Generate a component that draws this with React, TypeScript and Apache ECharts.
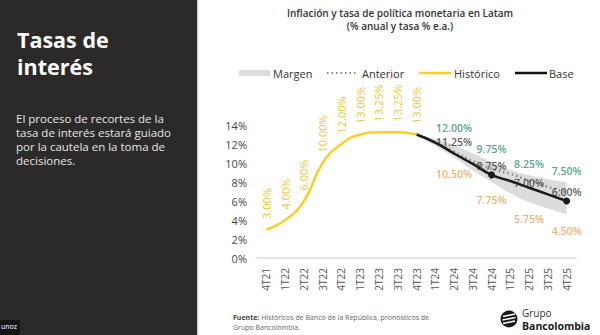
import React, { useEffect, useRef } from "react";
import * as echarts from "echarts";

const categories = ["4T21","1T22","2T22","3T22","4T22","1T23","2T23","3T23","4T23","1T24","2T24","3T24","4T24","1T25","2T25","3T25","4T25"];
const historico = [3.0, 4.0, 6.0, 10.0, 12.0, 13.0, 13.25, 13.25, 13.0, null, null, null, null, null, null, null, null];
const base = [null, null, null, null, null, null, null, null, 13.0, 12.15, 11.0, 9.9, 8.75, 8.1, 7.4, 6.7, 6.0];
const anterior = [null, null, null, null, null, null, null, null, 13.0, 12.2, 11.2, 10.2, 9.4, 8.85, 8.15, 7.5, 6.9];
const margenSup = [null, null, null, null, null, null, null, null, 13.0, 12.5, 11.9, 11.0, 10.1, 9.3, 8.7, 8.3, 8.0];
const margenInf = [null, null, null, null, null, null, null, null, 13.0, 11.8, 10.6, 9.2, 8.0, 6.8, 5.9, 5.2, 4.6];
const labelCats = ["2T24", "4T24", "2T25", "4T25"];
const labelAlto = [12.0, 9.75, 8.25, 7.5];
const labelBase = [11.25, 8.75, 7.0, 6.0];
const labelBajo = [10.5, 7.75, 5.75, 4.5];
const baseMarkers = ["4T24", "4T25"];

const FONT = "'Open Sans', 'Noto Sans', sans-serif";
const YELLOW = "#F8D027";
const YELLOW_LBL = "#EEC43A";
const GREEN = "#2E8B6E";
const ORANGE = "#E5A052";

export default function App() {
  const ref = useRef<HTMLDivElement>(null);
  useEffect(() => {
    if (!ref.current) return;
    const chart = echarts.init(ref.current, null, { renderer: "svg" });
    const diff = margenSup.map((v, i) => (v == null || margenInf[i] == null ? null : +(v - (margenInf[i] as number)).toFixed(3)));
    const fmt = (p: any) => (Array.isArray(p.value) ? p.value[1] : p.value).toFixed(2) + "%";
    const labelSeries = (vals: number[], color: string, position: string, distance: number) => ({
      type: "scatter",
      data: labelCats.map((c, i) => [c, vals[i]]),
      symbolSize: 1,
      itemStyle: { color: "rgba(0,0,0,0)" },
      silent: true,
      z: 10,
      label: {
        show: true,
        position,
        distance,
        formatter: fmt,
        color,
        fontSize: 10.5,
        fontWeight: 600,
        fontFamily: FONT,
        lineHeight: 11,
      },
    });
    const option: any = {
      animation: false,
      backgroundColor: "#ffffff",
      grid: { left: 257, right: 24, top: 125, bottom: 77, containLabel: false },
      xAxis: {
        type: "category",
        data: categories,
        boundaryGap: true,
        axisLine: { lineStyle: { color: "#dddddd", width: 1.5 } },
        axisTick: { show: false },
        axisLabel: { rotate: 90, fontSize: 10, color: "#555", margin: 10, fontFamily: FONT },
      },
      yAxis: {
        type: "value",
        min: 0,
        max: 14,
        interval: 2,
        splitLine: { show: false },
        axisLine: { show: false },
        axisTick: { show: false },
        axisLabel: { formatter: "{value}%", fontSize: 11, color: "#444", margin: 10, fontFamily: FONT },
      },
      series: [
        {
          name: "MargenInf",
          type: "line",
          stack: "band",
          data: margenInf,
          smooth: true,
          symbol: "none",
          lineStyle: { opacity: 0 },
          silent: true,
          z: 1,
        },
        {
          name: "Margen",
          type: "line",
          stack: "band",
          data: diff,
          smooth: true,
          symbol: "none",
          lineStyle: { opacity: 0 },
          areaStyle: { color: "#dcdcdc", opacity: 1 },
          silent: true,
          z: 1,
        },
        {
          name: "Anterior",
          type: "line",
          data: anterior,
          smooth: true,
          symbol: "none",
          lineStyle: { color: "#8a8a8a", width: 2.5, type: [1.5, 3] },
          z: 2,
        },
        {
          name: "Base",
          type: "line",
          data: base.map((v, i) =>
            baseMarkers.includes(categories[i]) ? { value: v, symbol: "circle", symbolSize: 7 } : { value: v, symbol: "none" }
          ),
          smooth: true,
          showSymbol: true,
          itemStyle: { color: "#1a1a1a" },
          lineStyle: { color: "#1a1a1a", width: 2.5 },
          z: 3,
        },
        {
          name: "Histórico",
          type: "line",
          data: historico,
          smooth: true,
          symbol: "circle",
          symbolSize: 1,
          itemStyle: { color: YELLOW },
          lineStyle: { color: YELLOW, width: 2.5 },
          z: 4,
          label: {
            show: true,
            position: "top",
            rotate: 90,
            align: "left",
            verticalAlign: "middle",
            distance: 10,
            formatter: (p: any) => p.value.toFixed(2) + "%",
            color: YELLOW_LBL,
            fontSize: 11,
            fontFamily: FONT,
          },
        },
        labelSeries(labelAlto, GREEN, "top", 10),
        labelSeries(labelBase, "#333333", "top", 3),
        labelSeries(labelBajo, ORANGE, "bottom", 10),
      ],
      graphic: [
        { type: "rect", shape: { x: 0, y: 0, width: 197, height: 335 }, style: { fill: "#2b2a28" }, z: 0 },
        { type: "rect", shape: { x: 197, y: 0, width: 1.5, height: 335 }, style: { fill: "#d0d0d0" }, z: 0 },
        { type: "text", x: 17, y: 39, style: { text: "Tasas de", fill: "#ffffff", font: `bold 21.5px ${FONT}`, verticalAlign: "middle", lineHeight: 22 } },
        { type: "text", x: 17, y: 66, style: { text: "interés", fill: "#ffffff", font: `bold 21.5px ${FONT}`, verticalAlign: "middle", lineHeight: 22 } },
        {
          type: "text",
          x: 16,
          y: 112,
          style: {
            text: "El proceso de recortes de la\ntasa de interés estará guiado\npor la cautela en la toma de\ndecisiones.",
            fill: "#e6e6e6",
            font: `11.5px ${FONT}`,
            lineHeight: 13.8,
          },
        },
        { type: "rect", shape: { x: 0, y: 320, width: 20, height: 15 }, style: { fill: "#151515" } },
        { type: "text", x: 1, y: 323, style: { text: "unoz", fill: "#ffffff", font: `7px ${FONT}` } },
        {
          type: "text",
          x: 400,
          y: 19,
          style: {
            text: "Inflación y tasa de política monetaria en Latam\n(% anual y tasa % e.a.)",
            fill: "#333333",
            font: `600 10px ${FONT}`,
            align: "center",
            verticalAlign: "middle",
            lineHeight: 13,
          },
        },
        // legend
        { type: "rect", shape: { x: 239, y: 70, width: 31, height: 6 }, style: { fill: "#dcdcdc" } },
        { type: "text", x: 273, y: 73, style: { text: "Margen", fill: "#333", font: `11px ${FONT}`, verticalAlign: "middle" } },
        { type: "line", shape: { x1: 327, y1: 73, x2: 357, y2: 73 }, style: { stroke: "#8a8a8a", lineWidth: 2, lineDash: [1.5, 3] } },
        { type: "text", x: 362, y: 73, style: { text: "Anterior", fill: "#333", font: `11px ${FONT}`, verticalAlign: "middle" } },
        { type: "line", shape: { x1: 419, y1: 73, x2: 451, y2: 73 }, style: { stroke: YELLOW, lineWidth: 2.5 } },
        { type: "text", x: 454, y: 73, style: { text: "Histórico", fill: "#333", font: `11px ${FONT}`, verticalAlign: "middle" } },
        { type: "line", shape: { x1: 515, y1: 73, x2: 547, y2: 73 }, style: { stroke: "#111", lineWidth: 2.5 } },
        { type: "text", x: 549, y: 73, style: { text: "Base", fill: "#333", font: `11px ${FONT}`, verticalAlign: "middle" } },
        // footer
        {
          type: "text",
          x: 233,
          y: 313,
          style: {
            text: "{b|Fuente:} Históricos de Banco de la República, pronósticos de\nGrupo Bancolombia.",
            fill: "#666",
            font: `7px ${FONT}`,
            lineHeight: 9.5,
            rich: { b: { fontWeight: "bold", fill: "#444", fontSize: 7, fontFamily: FONT } },
          },
        },
        // logo
        { type: "circle", shape: { cx: 509, cy: 319, r: 8.5 }, style: { fill: "#1a1a1a" } },
        { type: "line", shape: { x1: 503, y1: 316.5, x2: 515, y2: 314 }, style: { stroke: "#fff", lineWidth: 1.6 } },
        { type: "line", shape: { x1: 502.5, y1: 320, x2: 515.5, y2: 317.5 }, style: { stroke: "#fff", lineWidth: 1.6 } },
        { type: "line", shape: { x1: 503, y1: 323.5, x2: 515, y2: 321 }, style: { stroke: "#fff", lineWidth: 1.6 } },
        { type: "text", x: 522, y: 312.5, style: { text: "Grupo", fill: "#333", font: `10px ${FONT}`, verticalAlign: "middle" } },
        { type: "text", x: 522, y: 325.5, style: { text: "Bancolombia", fill: "#1a1a1a", font: `bold 10.5px ${FONT}`, verticalAlign: "middle" } },
      ],
    };
    chart.setOption(option);
    return () => chart.dispose();
  }, []);
  return <div ref={ref} style={{ position: "fixed", left: 0, top: 0, width: 600, height: 335 }} />;
}
